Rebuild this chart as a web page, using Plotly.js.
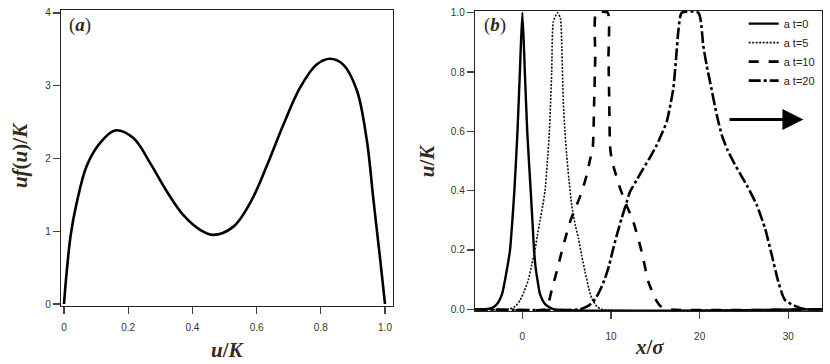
<!DOCTYPE html>
<html>
<head>
<meta charset="utf-8">
<script src="https://cdn.plot.ly/plotly-3.0.1.min.js"></script>
<style>
  html, body { margin: 0; padding: 0; background: #fff; }
  #graf { width: 830px; height: 364px; }
</style>
</head>
<body>
<div id="graf"></div>
<script>
// panel (a): u f(u) / K contra u / K
var uA = [0, 0.008, 0.021, 0.039, 0.071, 0.112, 0.159, 0.216, 0.268, 0.32, 0.372, 0.424, 0.465,
          0.527, 0.58, 0.631, 0.683, 0.735, 0.787, 0.829, 0.87, 0.912, 0.943, 0.964, 0.984, 1.0];
var fA = [0, 0.42, 0.95, 1.38, 1.9, 2.21, 2.385, 2.28, 1.94, 1.55, 1.22, 1.02, 0.95,
          1.06, 1.39, 1.89, 2.46, 2.97, 3.29, 3.37, 3.29, 2.94, 2.26, 1.43, 0.65, 0];

// panel (b): perfiles u/K contra x/sigma
var x0 = [-5.3, -4.2, -3.4, -2.8, -2.3, -1.95, -1.65, -1.39, -1.15, -0.9, -0.55, -0.28, 0,
          0.28, 0.55, 0.94, 1.15, 1.32, 1.5, 1.7, 2.0, 2.5, 3.0, 3.6, 33.8];
var u0 = [0, 0, 0.005, 0.02, 0.05, 0.1, 0.15, 0.2, 0.29, 0.4, 0.6, 0.8, 1.0,
          0.8, 0.6, 0.4, 0.29, 0.2, 0.14, 0.1, 0.05, 0.02, 0.008, 0, 0];

var x5 = [-5.3, -1.6, -0.8, -0.26, 0.2, 0.68, 1.05, 1.43, 1.7, 2.0, 2.3, 2.56, 2.8, 3.05, 3.31, 3.5,
          3.97, 4.3, 4.45, 4.62, 4.8, 5.0, 5.25, 5.57, 6.0, 6.32, 6.7, 7.07, 7.5, 7.83, 8.4, 9.0, 33.8];
var u5 = [0, 0, 0.01, 0.03, 0.06, 0.1, 0.15, 0.2, 0.25, 0.3, 0.35, 0.4, 0.49, 0.6, 0.8, 0.97,
          1.0, 0.98, 0.88, 0.7, 0.6, 0.52, 0.44, 0.35, 0.28, 0.24, 0.18, 0.127, 0.07, 0.037, 0.01, 0, 0];

var x10 = [-5.3, 2.6, 2.9, 3.31, 3.9, 4.44, 4.9, 5.38, 5.9, 6.43, 6.85, 7.26, 7.6, 7.94, 8.1, 8.22, 8.31,
           9.63, 9.72, 9.8, 9.89, 10.1, 10.45, 11.0, 11.58, 12.52, 13.46, 14.21, 14.97, 15.6, 16.5, 33.8];
var u10 = [0, 0, 0.015, 0.065, 0.13, 0.194, 0.245, 0.295, 0.335, 0.374, 0.41, 0.453, 0.5, 0.544, 0.7, 0.85, 1.0,
           1.0, 0.85, 0.7, 0.55, 0.5, 0.464, 0.41, 0.363, 0.295, 0.194, 0.093, 0.037, 0.01, 0, 0];

var x20 = [-5.3, 6.5, 7.26, 7.8, 8.39, 8.85, 9.33, 9.8, 10.26, 10.7, 11.2, 11.65, 12.15, 12.9, 13.65, 14.4,
           15.16, 15.7, 16.28, 16.7, 17.03, 17.35, 17.6, 17.98, 19.85, 20.4, 20.8, 21.17, 21.93, 22.49,
           23.1, 23.8, 24.5, 25.3, 26.43, 27.37, 28.13, 28.87, 29.63, 30.95, 32, 33.8];
var u20 = [0, 0, 0.009, 0.02, 0.043, 0.07, 0.105, 0.15, 0.206, 0.255, 0.307, 0.35, 0.397, 0.436, 0.475, 0.512,
           0.554, 0.59, 0.632, 0.69, 0.745, 0.85, 0.94, 1.0, 1.0, 0.89, 0.82, 0.767, 0.655, 0.588,
           0.54, 0.498, 0.46, 0.419, 0.352, 0.273, 0.183, 0.093, 0.031, 0.009, 0, 0];

var nombres = ['a t=0', 'a t=5', 'a t=10', 'a t=20'];
var ticksA_x = [0, 0.2, 0.4, 0.6, 0.8, 1.0];
var ticksA_xt = ['0', '0.2', '0.4', '0.6', '0.8', '1.0'];

// flecha (dirección de propagación)
var flecha = { desde: 23.2, hasta: 31.7, nivel: 0.64 };

var fTick = { family: 'Liberation Sans, Arial, sans-serif', size: 10, color: '#333' };
var fTitulo = { family: 'Liberation Serif, Times New Roman, serif', size: 21, color: '#33291c' };

var trazas = [
  { x: uA, y: fA, xaxis: 'x', yaxis: 'y', mode: 'lines', showlegend: false,
    line: { color: '#000', width: 2.6, shape: 'spline', smoothing: 1 } },
  { x: x0, y: u0, xaxis: 'x2', yaxis: 'y2', mode: 'lines', name: nombres[0],
    line: { color: '#000', width: 2.4, shape: 'spline', smoothing: 0.6 } },
  { x: x5, y: u5, xaxis: 'x2', yaxis: 'y2', mode: 'lines', name: nombres[1],
    line: { color: '#111', width: 1.6, dash: '2px,1.5px', shape: 'spline', smoothing: 0.6 } },
  { x: x10, y: u10, xaxis: 'x2', yaxis: 'y2', mode: 'lines', name: nombres[2],
    line: { color: '#000', width: 2.6, dash: '10px,10px', shape: 'spline', smoothing: 0.5 } },
  { x: x20, y: u20, xaxis: 'x2', yaxis: 'y2', mode: 'lines', name: nombres[3],
    line: { color: '#000', width: 2.6, dash: '12px,3px,3px,3px', shape: 'spline', smoothing: 0.6 } }
];

var ejeComun = {
  showline: true, mirror: true, linecolor: '#222', linewidth: 1.3,
  ticks: 'outside', ticklen: 7, tickwidth: 1.2, tickcolor: '#444',
  showgrid: false, zeroline: false, tickfont: fTick
};

function etiqueta(texto, x, y, ang, fuente) {
  return { text: texto, xref: 'paper', yref: 'paper', x: x, y: y, xanchor: 'center', yanchor: 'middle',
           textangle: ang, showarrow: false, font: fuente };
}
var fPanel = { family: fTitulo.family, size: 19, color: '#33291c' };

var layout = {
  width: 830, height: 364,
  margin: { l: 0, r: 0, t: 0, b: 0 },
  paper_bgcolor: '#fff', plot_bgcolor: '#fff',
  showlegend: true,
  legend: { x: 0.896, y: 0.975, xanchor: 'left', yanchor: 'top', bgcolor: 'rgba(0,0,0,0)',
            font: { family: 'Liberation Sans, Arial, sans-serif', size: 11, color: '#222' },
            tracegroupgap: 0 },
  xaxis: Object.assign({}, ejeComun, { domain: [0.0735, 0.4735], range: [-0.0093, 1.0249],
          tickvals: ticksA_x, ticktext: ticksA_xt, anchor: 'y', ticklabelstandoff: 5 }),
  yaxis: Object.assign({}, ejeComun, { domain: [0.1593, 0.9725], range: [-0.0275, 4.04],
          tickvals: [0, 1, 2, 3, 4], anchor: 'x' }),
  xaxis2: Object.assign({}, ejeComun, { domain: [0.5723, 0.9904], range: [-5.34, 33.8],
          tickvals: [0, 10, 20, 30], anchor: 'y2', ticklabelstandoff: 9 }),
  yaxis2: Object.assign({}, ejeComun, { domain: [0.1456, 0.9698], range: [-0.0057, 1.0057],
          tickvals: [0, 0.2, 0.4, 0.6, 0.8, 1.0], tickformat: '.1f', anchor: 'x2' }),
  annotations: [
    etiqueta('<b><i>u</i>/<i>K</i></b>', 0.2747, 0.0385, 0, fTitulo),
    etiqueta('<b><i>uf</i>(<i>u</i>)/<i>K</i></b>', 0.0241, 0.574, -90, fTitulo),
    etiqueta('<b><i>u</i>/<i>K</i></b>', 0.5145, 0.56, -90, fTitulo),
    etiqueta('<b><i>x</i>/<i>σ</i></b>', 0.783, 0.0467, 0, fTitulo),
    etiqueta('(<b><i>a</i></b>)', 0.0964, 0.931, 0, fPanel),
    etiqueta('(<b><i>b</i></b>)', 0.5964, 0.931, 0, fPanel),
    { x: flecha.hasta, y: flecha.nivel, ax: flecha.desde, ay: flecha.nivel,
      xref: 'x2', yref: 'y2', axref: 'x2', ayref: 'y2', text: '',
      showarrow: true, arrowhead: 2, arrowsize: 1.4, arrowwidth: 3, arrowcolor: '#000' }
  ]
};

Plotly.newPlot('graf', trazas, layout, { staticPlot: true, displayModeBar: false });
</script>
</body>
</html>
